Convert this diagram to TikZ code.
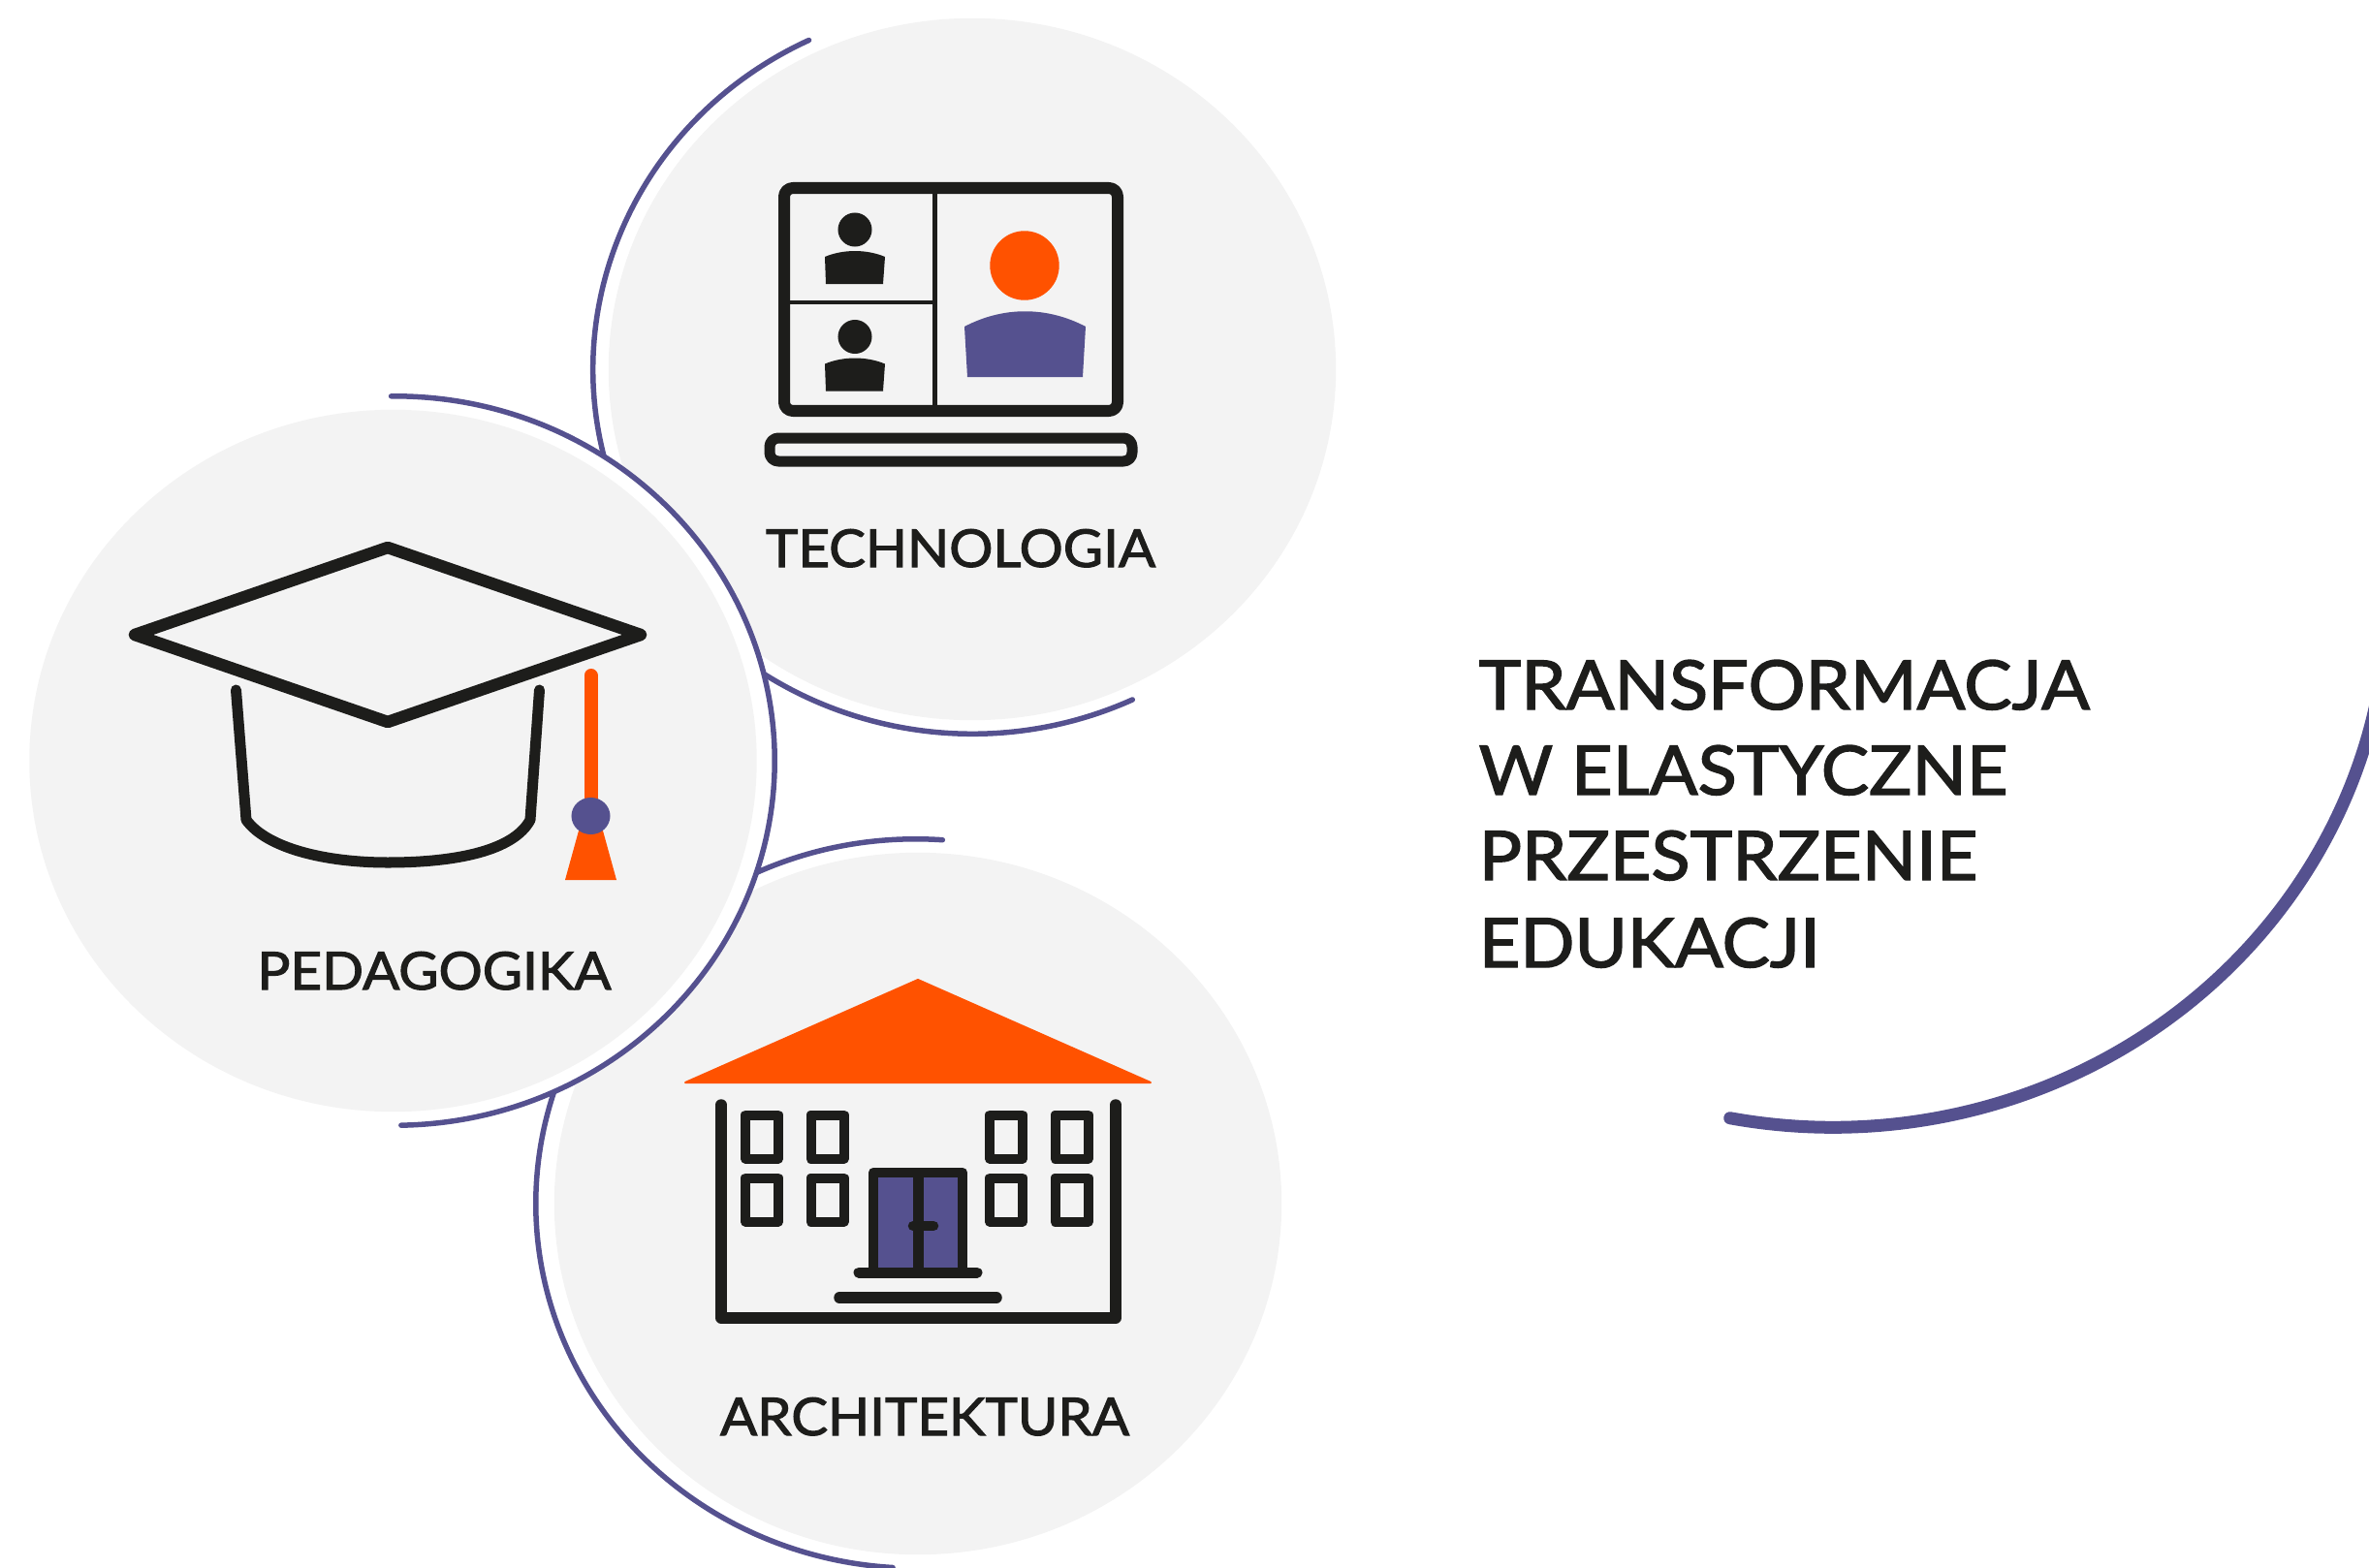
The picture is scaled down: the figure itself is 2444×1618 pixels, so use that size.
\documentclass[tikz,border=0pt]{standalone}
\usepackage{fontspec}
\setmainfont{Lato}[FakeStretch=1.05, RawFeature={embolden=2}]
\usepackage{tikz}

\definecolor{ringblue}{HTML}{55518F}
\definecolor{iconorange}{HTML}{FF5200}
\definecolor{iconblack}{HTML}{1D1D1B}
\definecolor{discgray}{HTML}{F3F3F3}

\tikzset{
	ringline/.style={draw=ringblue, line width=0.55mm, line cap=round},
	iconline/.style={draw=iconblack, line cap=round, line join=round},
	labeltext/.style={text=iconblack, inner sep=0pt, anchor=base, font=\fontsize{15.3}{18}\selectfont},
	headtext/.style={text=iconblack, inner sep=0pt, anchor=base west, font=\fontsize{20}{24}\selectfont}
}

\begin{document}
\begin{tikzpicture}[x=0.01cm, y=-0.01cm]
	\useasboundingbox (0,0) rectangle (2444,1618);

	% Large arc on the right
	\draw[draw=ringblue, line width=1.3mm, line cap=round] (1891,613) ++(-100.7:5.72cm and 5.5cm) arc[start angle=-100.7, end angle=-10, x radius=5.72cm, y radius=5.5cm];

	% Upper disc
	\draw[ringline] (1003,381) ++(115.5:3.91cm and 3.76cm) arc[start angle=115.5, end angle=295, x radius=3.91cm, y radius=3.76cm];
	\fill[discgray] (1003,381) ellipse [x radius=3.75cm, y radius=3.62cm];

	% Lower disc
	\draw[ringline] (945,1242) ++(86:3.92cm and 3.76cm) arc[start angle=86, end angle=266.5, x radius=3.92cm, y radius=3.76cm];
	\fill[discgray] (947,1242) ellipse [x radius=3.75cm, y radius=3.62cm];

	% Left disc lies on top of the other two
	\fill[white] (407,785) ellipse [x radius=3.92cm, y radius=3.76cm];
	\fill[discgray] (405.5,785) ellipse [x radius=3.75cm, y radius=3.62cm];
	\draw[ringline] (407,785) ++(90.5:3.92cm and 3.76cm) arc[start angle=90.5, end angle=-89, x radius=3.92cm, y radius=3.76cm];

	% Laptop
	\draw[iconline, line width=1.2mm, rounded corners=0.9mm] (809,194) rectangle (1153,424);
	\draw[iconline, line width=0.5mm, line cap=butt] (964,194) -- (964,424);
	\draw[iconline, line width=0.4mm, line cap=butt] (809,312) -- (964,312);
	\draw[iconline, line width=1.1mm, rounded corners=0.9mm] (794,452) rectangle (1168,476);

	% Small persons on the screen
	\foreach \dy in {0,110.5} {
		\fill[iconblack] (882,237+\dy) ellipse [x radius=1.75mm, y radius=1.75mm];
		\fill[iconblack] (851,265+\dy) .. controls (870,257+\dy) and (894,257+\dy) .. (913,265+\dy) -- (911,293+\dy) -- (852,293+\dy) -- cycle;
	}

	% Large person on the screen
	\fill[iconorange] (1057,274) circle (3.57mm);
	\fill[ringblue] (995,337) .. controls (1035,316) and (1080,316) .. (1120,337) -- (1117,389) -- (998,389) -- cycle;

	% Mortarboard
	\draw[iconline, line width=1.25mm] (139,655) -- (400,565) -- (661,655) -- (400,745) -- cycle;
	\draw[iconline, line width=1.1mm] (243.5,712) -- (254,846) .. controls (275,875) and (335,890) .. (400,890) .. controls (470,890) and (530,878) .. (547,846) -- (556.5,712);

	% Tassel
	\draw[draw=iconorange, line width=1.4mm, line cap=round] (609.5,697) -- (609.5,840);
	\fill[iconorange] (599,850) -- (620,850) -- (636,908) -- (583,908) -- cycle;
	\fill[ringblue] (609.5,842) ellipse [x radius=2mm, y radius=1.9mm];

	% Roof
	\fill[iconorange, draw=iconorange, line width=0.2mm, line join=round] (947,1011) -- (1187,1117) -- (707,1117) -- cycle;

	% Walls
	\draw[iconline, line width=1.15mm] (744,1140) -- (744,1360) -- (1151,1360) -- (1151,1140);

	% Windows
	\foreach \wx in {786,853.5,1038,1105.5} {
		\foreach \wy in {1173,1238} {
			\draw[iconline, line width=1mm] (\wx-17,\wy-22.5) rectangle (\wx+17,\wy+22.5);
		}
	}

	% Door and steps
	\filldraw[fill=ringblue, iconline, line width=1.05mm] (901,1210) rectangle (993,1313);
	\draw[iconline, line width=1.1mm, line cap=butt] (947,1210) -- (947,1313);
	\draw[iconline, line width=1.05mm] (942,1265) -- (963,1265);
	\draw[iconline, line width=1.1mm] (886,1313) -- (1008,1313);
	\draw[iconline, line width=1.15mm] (866,1339) -- (1028,1339);

	% Labels
	\node[labeltext] (tech) at (991,585) {TECHNOLOGIA};
	\node[labeltext] (ped) at (448,1021) {PEDAGOGIKA};
	\node[labeltext] (arch) at (954,1481) {ARCHITEKTURA};

	% Title
	\node[headtext] (line1) at (1525,732) {TRANSFORMACJA};
	\node[headtext] (line2) at (1525,820) {W ELASTYCZNE};
	\node[headtext] (line3) at (1525,908) {PRZESTRZENIE};
	\node[headtext] (line4) at (1525,998) {EDUKACJI};

\end{tikzpicture}
\end{document}
